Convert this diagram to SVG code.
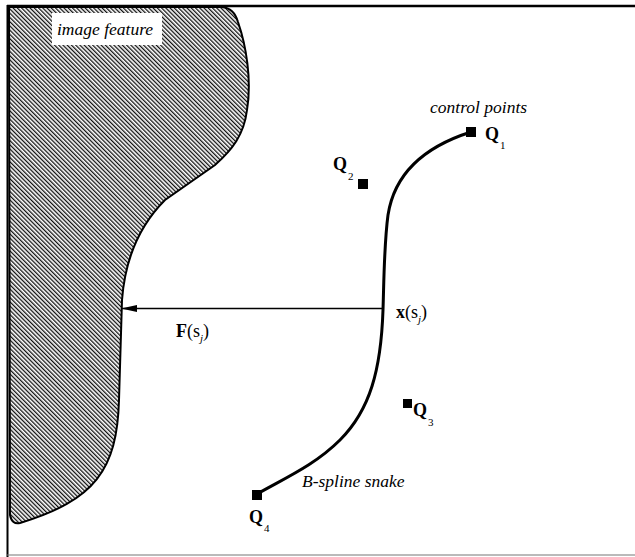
<svg xmlns="http://www.w3.org/2000/svg" width="635" height="557" viewBox="0 0 635 557">
<defs>
<pattern id="hatch" patternUnits="userSpaceOnUse" width="3" height="3" patternTransform="rotate(-45)">
<rect width="3" height="3" fill="#fff"/>
<rect x="0" y="0" width="1.3" height="3" fill="#111"/>
</pattern>
<marker id="arrow" markerWidth="16" markerHeight="10" refX="15" refY="5" orient="auto" markerUnits="userSpaceOnUse">
<path d="M16,5 L0,1.5 L0,8.5 Z" fill="#000"/>
</marker>
</defs>
<style>
.lbl{font-family:"Liberation Serif","DejaVu Serif","Times New Roman",serif;font-style:italic;font-size:17.5px;fill:#000}
.q{font-family:"Liberation Serif","DejaVu Serif","Times New Roman",serif;font-weight:bold;font-size:18px;fill:#000}
.sub{font-family:"Liberation Serif","DejaVu Serif","Times New Roman",serif;font-size:11px;fill:#000}
.math{font-family:"Liberation Serif","DejaVu Serif","Times New Roman",serif;font-size:18px;fill:#000}
.pt{fill:#000}
</style>
<rect width="635" height="557" fill="#fff"/>
<g id="frame" fill="none">
<line x1="7" y1="6" x2="635" y2="6" stroke="#000" stroke-width="2.5"/>
<line x1="7.5" y1="5" x2="7.5" y2="557" stroke="#000" stroke-width="2"/>
<line x1="7" y1="555" x2="635" y2="555" stroke="#777" stroke-width="1.2"/>
</g>
<g id="image-feature">
<path d="M9,7 L222,7 Q234,8 238,22 C246,45 252,80 247,110 C244,135 232,150 215,165 L165,200 C140,225 125,260 122,300 L119,400 C117,470 95,500 20,523 Q12,525 10,515 Z" fill="url(#hatch)" stroke="#000" stroke-width="2"/>
<rect x="52" y="13" width="110" height="32" fill="#fff"/>
<text class="lbl" x="57" y="35" font-size="18px">image feature</text>
</g>
<g id="connectors">
<path d="M471,132 C430,145 395,170 388,215 C384,245 384,280 383,310 C381,370 370,410 340,440 C315,465 285,478 257,494" fill="none" stroke="#000" stroke-width="3"/>
<line x1="384" y1="308.5" x2="122" y2="308.5" stroke="#000" stroke-width="1.5" marker-end="url(#arrow)"/>
</g>
<g id="Q1">
<rect class="pt" x="466" y="127" width="10" height="10"/>
<text class="q" x="485" y="140">Q</text><text class="sub" x="500" y="149">1</text>
</g>
<g id="Q2">
<rect class="pt" x="358" y="179" width="10" height="10"/>
<text class="q" x="333" y="170">Q</text><text class="sub" x="348" y="180">2</text>
</g>
<g id="Q3">
<rect class="pt" x="403" y="399" width="9" height="9"/>
<text class="q" x="413" y="416">Q</text><text class="sub" x="428" y="426">3</text>
</g>
<g id="Q4">
<rect class="pt" x="252" y="490" width="10" height="10"/>
<text class="q" x="249" y="523">Q</text><text class="sub" x="264" y="532">4</text>
</g>
<g id="labels">
<text class="lbl" x="430" y="113">control points</text>
<text class="lbl" x="302" y="487">B-spline snake</text>
<text class="math" x="176" y="337"><tspan font-weight="bold">F</tspan>(s<tspan class="sub" font-style="italic" dy="5">j</tspan><tspan dy="-5">)</tspan></text>
<text class="math" x="396" y="318"><tspan font-weight="bold">x</tspan>(s<tspan class="sub" font-style="italic" dy="5">j</tspan><tspan dy="-5">)</tspan></text>
</g>
</svg>
